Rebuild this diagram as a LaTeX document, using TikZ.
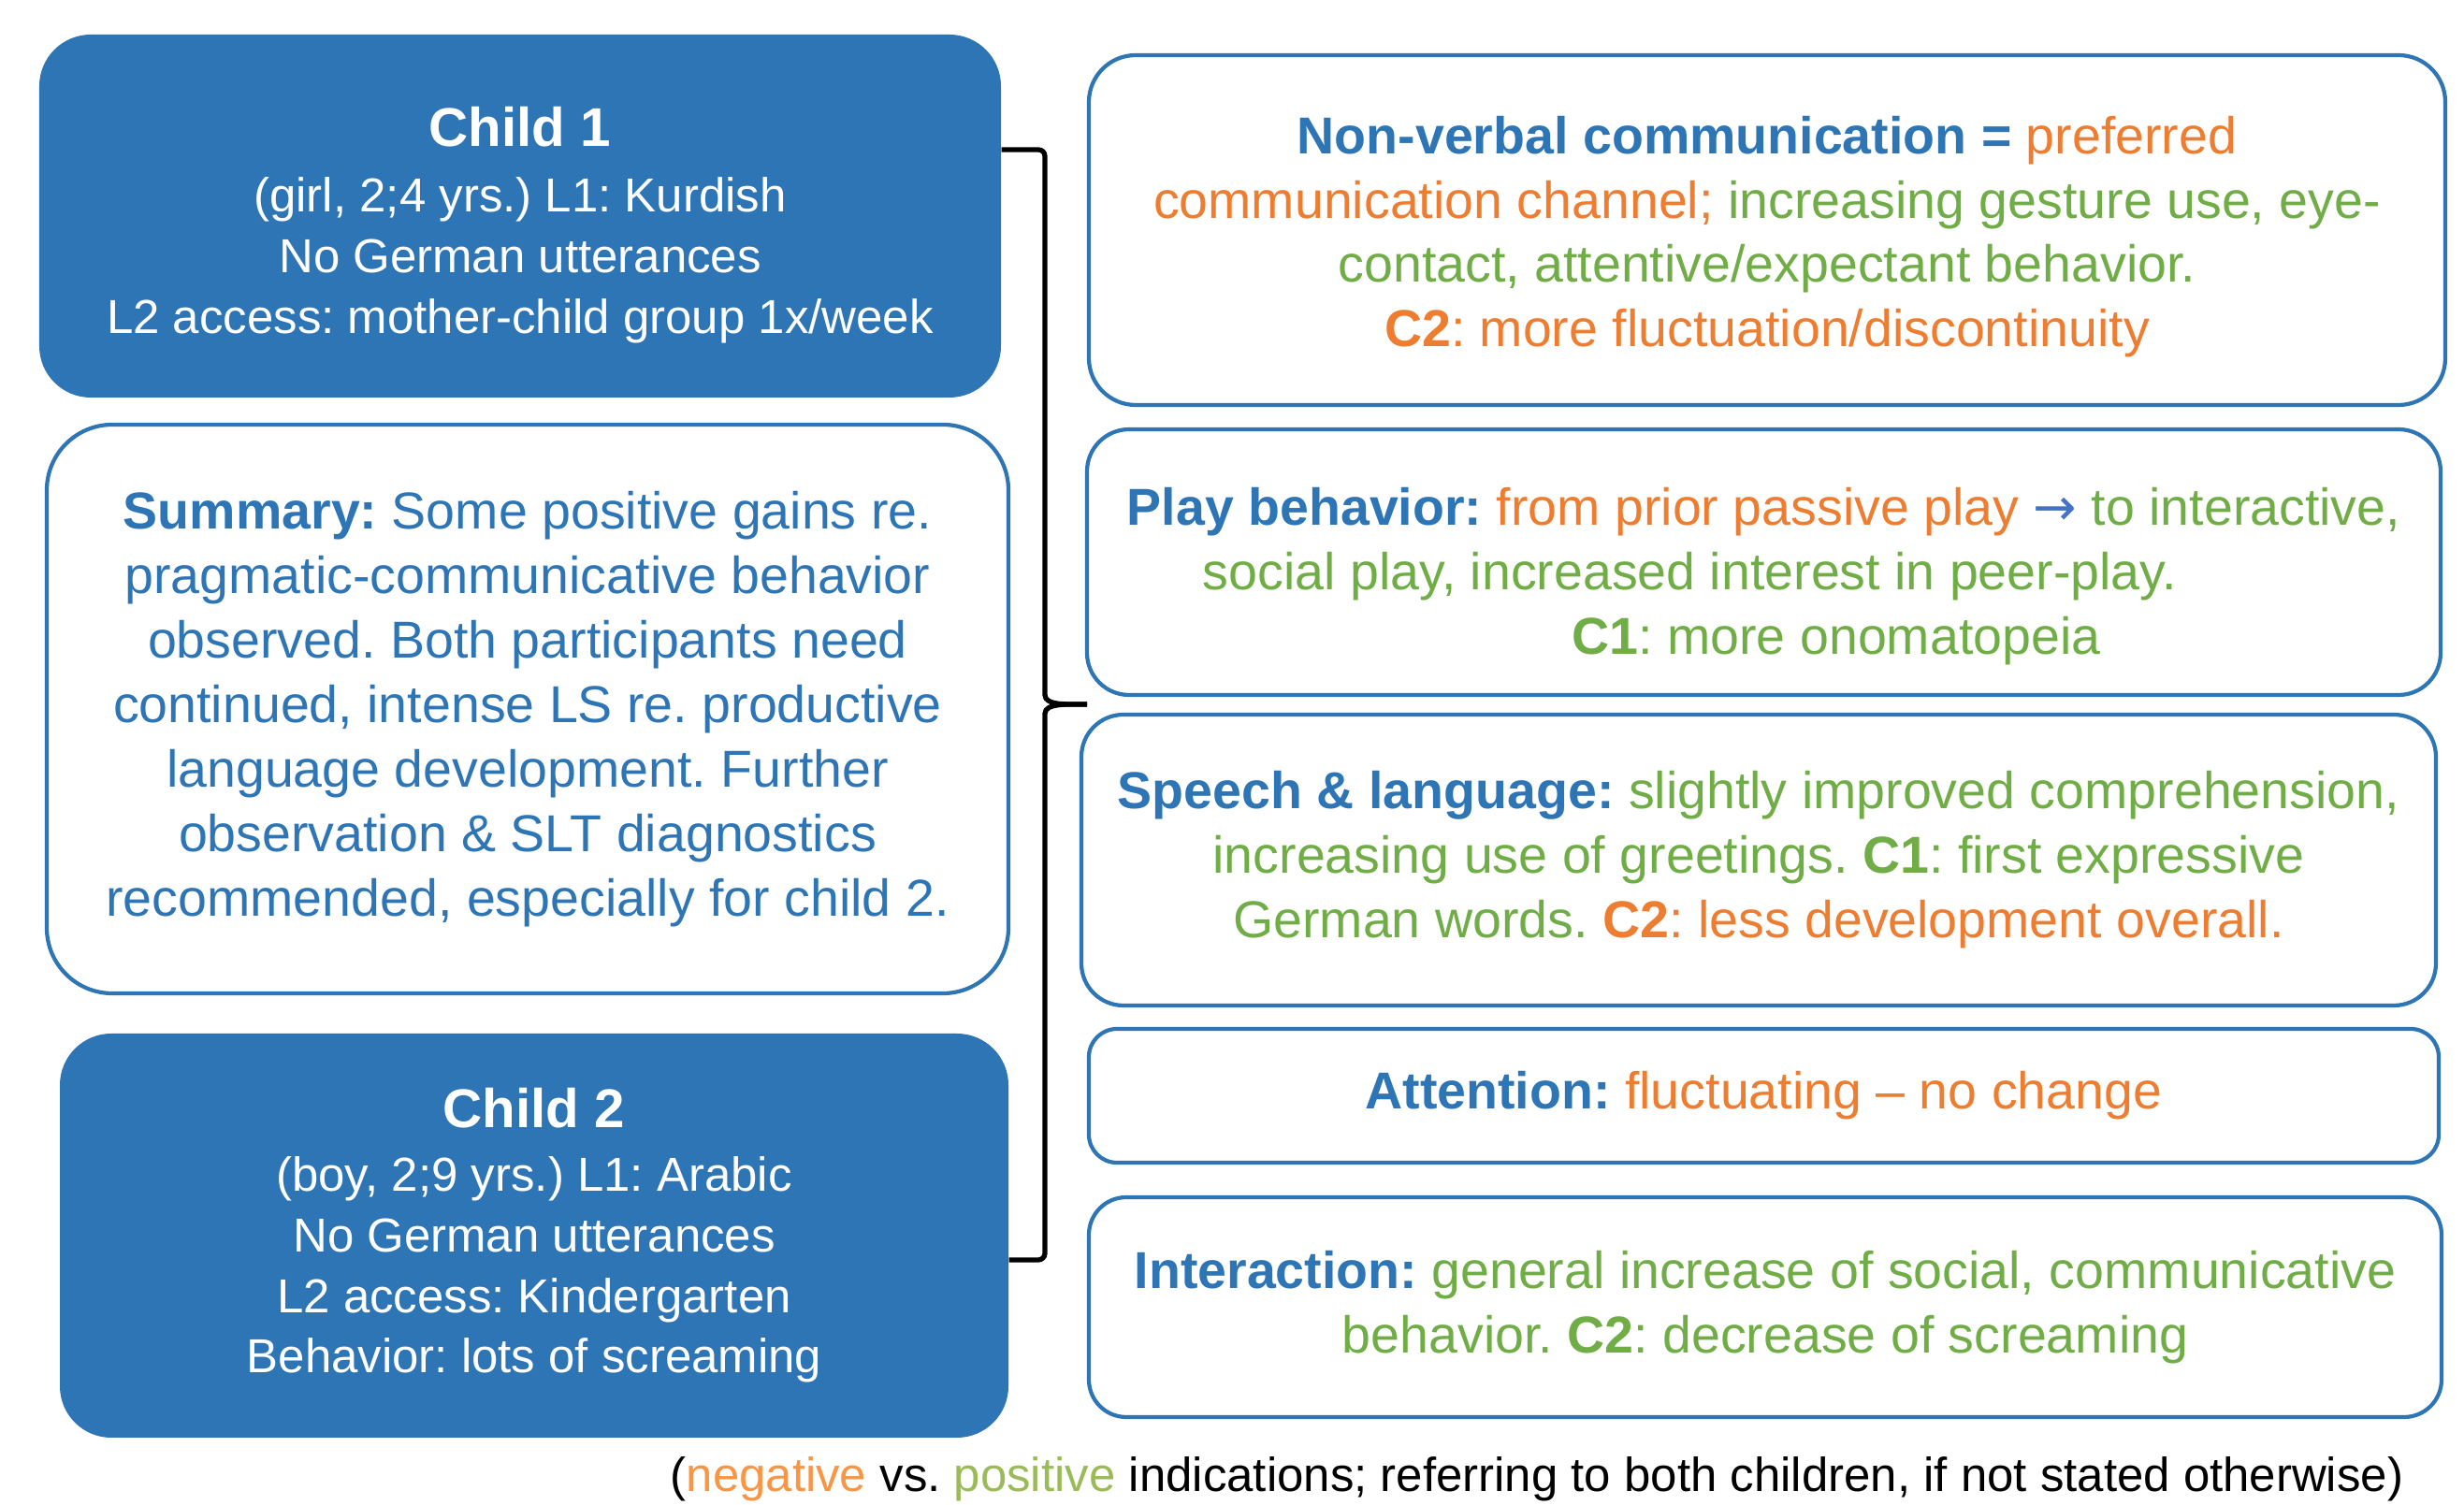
\documentclass[tikz,border=0pt]{standalone}
\usepackage{fontspec}
\setmainfont{Liberation Sans}
\newfontfamily\arrowfont{DejaVu Sans}
\usepackage{tikz}
\usetikzlibrary{arrows.meta, positioning, calc}
\usepackage{xcolor}
\definecolor{obsblue}{HTML}{2E75B6}
\definecolor{obsorange}{HTML}{ED7D31}
\definecolor{obsgreen}{HTML}{70AD47}
\definecolor{obsarrow}{HTML}{4472C4}
\definecolor{noteorange}{HTML}{F79646}
\definecolor{notegreen}{HTML}{9BBB59}
\frenchspacing

% heading / negative / positive text
\newcommand{\hd}[1]{\textcolor{obsblue}{\bfseries #1}}
\newcommand{\ngt}[1]{\textcolor{obsorange}{#1}}
\newcommand{\pst}[1]{\textcolor{obsgreen}{#1}}

\begin{document}
\begin{tikzpicture}[
    font=\fontsize{15.8}{19.6}\selectfont,
    kid/.style={fill=obsblue, text=white, rounded corners=5.5mm, align=center,
                font=\fontsize{14.5}{18.4}\selectfont},
    obs/.style={draw=obsblue, line width=1.2pt, fill=white, align=center,
                rounded corners=4.5mm},
    brace/.style={black, line width=1.5pt, rounded corners=2pt},
    note/.style={font=\fontsize{14.5}{18}\selectfont, inner sep=0pt}]

  \useasboundingbox (0,0) rectangle (26.34,-16.09);

  % ---- the two children and the summary (left) ----
  \node[kid, minimum width=10.28cm, minimum height=3.88cm] (child1) at (5.56,-2.31)
    {\rule{0pt}{17.5pt}{\fontsize{16.6}{20}\selectfont\bfseries Child 1}\\[1.5pt]
     (girl, 2;4 yrs.) L1: Kurdish\\
     No German utterances\\
     L2 access: mother-child group 1x/week};
  \node[obs, rounded corners=7mm, text=obsblue, minimum width=10.28cm,
        minimum height=6.08cm] (summ) at (5.64,-7.58)
    {\textbf{Summary:} Some positive gains re.\\
     pragmatic-communicative behavior\\
     observed. Both participants need\\
     continued, intense LS re. productive\\
     language development. Further\\
     observation \& SLT diagnostics\\
     recommended, especially for child 2.};
  \node[kid, minimum width=10.14cm, minimum height=4.32cm] (child2) at (5.71,-13.21)
    {{\fontsize{16.6}{20}\selectfont\bfseries Child 2}\\[1pt]
     (boy, 2;9 yrs.) L1: Arabic\\
     No German utterances\\
     L2 access: Kindergarten\\
     Behavior: lots of screaming};

  % ---- observed areas (right) ----
  \node[obs, rounded corners=5mm, minimum width=14.50cm, minimum height=3.74cm]
        (nonverb) at (18.89,-2.46)
    {\rule{0pt}{15.5pt}\hd{Non-verbal communication =} \ngt{preferred}\\
     \ngt{communication channel;} \pst{increasing gesture use, eye-}\\
     \pst{contact, attentive/expectant behavior.}\\
     \ngt{\textbf{C2}: more fluctuation/discontinuity}};
  \node[obs, minimum width=14.47cm, minimum height=2.84cm] (play) at (18.855,-6.01)
    {\rule{0pt}{20pt}\hd{Play behavior:} \ngt{from prior passive play}
     \textcolor{obsarrow}{\arrowfont →} \pst{to interactive,}\\
     \pst{social play, increased interest in peer-play.}\hspace*{1.58cm}\mbox{}\\
     \hspace*{1.55cm}\pst{\textbf{C1}: more onomatopeia}};
  \node[obs, minimum width=14.48cm, minimum height=3.11cm] (speech) at (18.80,-9.195)
    {\hd{Speech \& language:} \pst{slightly improved comprehension,}\\
     \pst{increasing use of greetings. \textbf{C1}: first expressive}\\
     \pst{German words.} \ngt{\textbf{C2}: less development overall.}};
  \node[obs, rounded corners=3mm, minimum width=14.43cm, minimum height=1.43cm]
        (attn) at (18.855,-11.715)
    {\hd{Attention:} \ngt{fluctuating – no change}};
  \node[obs, rounded corners=4mm, minimum width=14.46cm, minimum height=2.35cm]
        (inter) at (18.87,-13.975)
    {\hd{Interaction:} \pst{general increase of social, communicative}\\
     \pst{behavior. \textbf{C2}: decrease of screaming}};

  % brace joining both children to the observations
  \coordinate (bracetip) at (11.62,-7.53);
  \draw[brace] ([yshift=7.1mm]child1.east) -- (11.17,-1.60) -- (11.17,-7.36)
        to[out=-90, in=180] (bracetip);
  \draw[brace] (bracetip) to[out=180, in=90] (11.17,-7.70) -- (11.17,-13.47)
        -- ([yshift=-2.6mm]child2.east);

  \node[note] (legend) at (16.43,-15.81)
    {(\textcolor{noteorange}{negative} vs. \textcolor{notegreen}{positive}
     indications; referring to both children, if not stated otherwise)};
\end{tikzpicture}
\end{document}
